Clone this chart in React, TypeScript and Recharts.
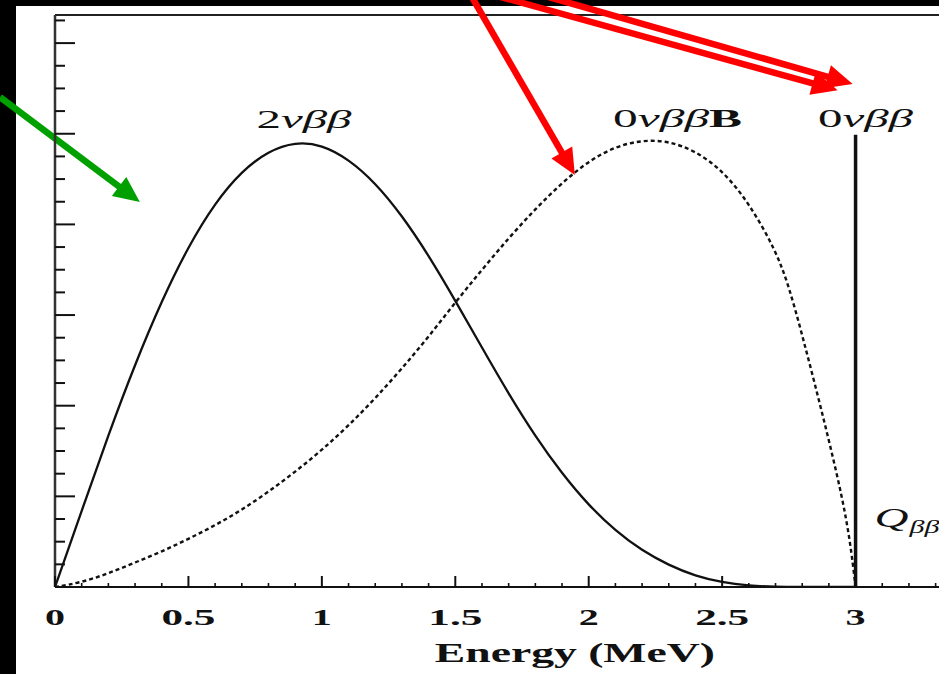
import React from 'react'
import { LineChart, Line, XAxis, YAxis, ReferenceDot, ReferenceLine } from 'recharts'

// energy grid (MeV) and spectrum heights (arbitrary units)
const twoNuEnergy = [0, 0.1, 0.2, 0.3, 0.4, 0.5, 0.6, 0.7, 0.8, 0.9, 1.0, 1.1, 1.2, 1.3, 1.4, 1.5, 1.6, 1.7, 1.8, 1.9, 2.0, 2.1, 2.2, 2.3, 2.4, 2.5, 2.6, 2.7, 2.8, 2.9, 3.0]
const twoNuCounts = [0, 0.84, 1.68, 2.46, 3.16, 3.76, 4.24, 4.59, 4.81, 4.91, 4.88, 4.72, 4.46, 4.1, 3.66, 3.16, 2.64, 2.13, 1.66, 1.25, 0.9, 0.62, 0.4, 0.24, 0.12, 0.05, 0.015, 0, 0, 0, 0]

const zeroNuBEnergy = [0, 0.1, 0.2, 0.3, 0.4, 0.5, 0.6, 0.7, 0.8, 0.9, 1.0, 1.1, 1.2, 1.3, 1.4, 1.5, 1.6, 1.7, 1.8, 1.9, 2.0, 2.1, 2.2, 2.3, 2.4, 2.5, 2.6, 2.7, 2.75, 2.8, 2.85, 2.9, 2.95, 2.98, 3.0]
const zeroNuBCounts = [0, 0.05, 0.15, 0.27, 0.39, 0.53, 0.68, 0.85, 1.05, 1.27, 1.51, 1.78, 2.08, 2.41, 2.76, 3.14, 3.5, 3.85, 4.17, 4.46, 4.7, 4.86, 4.93, 4.92, 4.81, 4.6, 4.24, 3.72, 3.32, 2.78, 2.21, 1.62, 0.99, 0.5, 0]

const zeroNuEnergy = [3.0, 3.0]
const zeroNuCounts = [0, 4.99]

const xMajorTicks = [0, 0.5, 1, 1.5, 2, 2.5, 3, 3.5]
const xTickLabels = ['0', '0.5', '1', '1.5', '2', '2.5', '3', '']
const xMinorTicks = [0.1, 0.2, 0.3, 0.4, 0.6, 0.7, 0.8, 0.9, 1.1, 1.2, 1.3, 1.4, 1.6, 1.7, 1.8, 1.9, 2.1, 2.2, 2.3, 2.4, 2.6, 2.7, 2.8, 2.9, 3.1, 3.2, 3.3, 3.4]
const yTicks = [0, 0.25, 0.5, 0.75, 1, 1.25, 1.5, 1.75, 2, 2.25, 2.5, 2.75, 3, 3.25, 3.5, 3.75, 4, 4.25, 4.5, 4.75, 5, 5.25, 5.5, 5.75, 6, 6.25]
const yMax = 6.31

// annotation text positions (energy, height)
const curveLabels = [
  { e: 0.933, v: 5.06, lead: '2', greek: 'νββ', tail: '', width: 95 },
  { e: 2.333, v: 5.07, lead: '0', greek: 'νββ', tail: 'B', width: 129 },
  { e: 3.037, v: 5.07, lead: '0', greek: 'νββ', tail: '', width: 95 },
]

// arrows drawn on top of the figure: [fromE, fromV, toE, toV]
const redArrows = [
  [1.554, 6.55, 1.948, 4.544],
  [1.62, 6.55, 2.933, 5.48],
  [1.8, 6.55, 2.989, 5.55],
]
const greenArrow = [-0.206, 5.404, 0.318, 4.246]

const serif = '"Liberation Serif", "DejaVu Serif", serif'

const toPoints = (es: number[], vs: number[]) => es.map((e, i) => ({ e, v: vs[i] }))

function XTick(props: any) {
  const { x, y, payload } = props
  const i = xMajorTicks.findIndex((t) => Math.abs(t - payload.value) < 1e-6)
  const major = i >= 0
  const label = major ? xTickLabels[i] : ''
  return (
    <g>
      <line x1={x} x2={x} y1={y} y2={y - (major ? 11 : 4)} stroke="#111" strokeWidth={major ? 2 : 1.6} />
      {label ? (
        <text
          x={x}
          y={y + 38}
          textAnchor="middle"
          fontFamily={serif}
          fontWeight="bold"
          fontSize={23}
          fill="#111"
          textLength={label.length > 1 ? 54 : 20}
          lengthAdjust="spacingAndGlyphs"
        >
          {label}
        </text>
      ) : null}
    </g>
  )
}

function YTick(props: any) {
  const { x, y, payload } = props
  const major = Math.abs(payload.value - Math.round(payload.value)) < 1e-6
  return <line x1={x} x2={x + (major ? 20 : 10)} y1={y} y2={y} stroke="#111" strokeWidth={2} />
}

function arrowShape(color: string) {
  return (p: any) => {
    const { x1, y1, x2, y2 } = p
    const dx = x2 - x1
    const dy = y2 - y1
    const len = Math.hypot(dx, dy)
    const ux = dx / len
    const uy = dy / len
    const head = 26
    const half = 12
    const bx = x2 - ux * head
    const by = y2 - uy * head
    return (
      <g>
        <line x1={x1} y1={y1} x2={bx + ux * 3} y2={by + uy * 3} stroke={color} strokeWidth={6.5} />
        <polygon points={`${x2},${y2} ${bx - uy * half},${by + ux * half} ${bx + uy * half},${by - ux * half}`} fill={color} />
      </g>
    )
  }
}

export default function App() {
  return (
    <div style={{ position: 'absolute', left: 0, top: 0, width: 939, height: 674, overflow: 'hidden', background: '#000' }}>
      <div style={{ position: 'absolute', left: 16, top: 6, right: 0, bottom: 0, background: '#fff' }} />
      <div style={{ position: 'absolute', left: 0, top: 0 }}>
        <LineChart width={1000} height={674} margin={{ top: 15, right: 11, bottom: 86, left: 54 }}>
          <XAxis
            dataKey="e"
            type="number"
            domain={[0, 3.5]}
            ticks={[...xMajorTicks, ...xMinorTicks]}
            interval={0}
            height={1}
            tickSize={0}
            tickMargin={0}
            tickLine={false}
            tick={<XTick />}
            axisLine={{ stroke: '#111', strokeWidth: 2 }}
            allowDataOverflow
          />
          <YAxis
            type="number"
            domain={[0, yMax]}
            ticks={yTicks}
            interval={0}
            width={1}
            tickSize={0}
            tickMargin={0}
            tickLine={false}
            tick={<YTick />}
            axisLine={{ stroke: '#333', strokeWidth: 2.5 }}
            allowDataOverflow
          />
          <ReferenceLine y={yMax} stroke="#222" strokeWidth={2} ifOverflow="visible" />

          <Line data={toPoints(twoNuEnergy, twoNuCounts)} dataKey="v" type="basis" stroke="#111" strokeWidth={2.3} dot={false} isAnimationActive={false} />
          <Line data={toPoints(zeroNuBEnergy, zeroNuBCounts)} dataKey="v" type="basis" stroke="#111" strokeWidth={2.4} strokeDasharray="4 3" dot={false} isAnimationActive={false} />
          <Line data={toPoints(zeroNuEnergy, zeroNuCounts)} dataKey="v" type="linear" stroke="#111" strokeWidth={3.5} dot={false} isAnimationActive={false} />

          {curveLabels.map((l) => (
            <ReferenceDot
              key={l.lead + l.tail + l.e}
              x={l.e}
              y={l.v}
              r={0}
              ifOverflow="visible"
              shape={(p: any) => (
                <text x={p.cx} y={p.cy} textAnchor="middle" fontFamily={serif} fontSize={25} fill="#111" textLength={l.width} lengthAdjust="spacingAndGlyphs">
                  <tspan>{l.lead}</tspan>
                  <tspan fontStyle="italic">{l.greek}</tspan>
                  {l.tail ? <tspan fontWeight="bold">{l.tail}</tspan> : null}
                </text>
              )}
            />
          ))}

          <ReferenceDot
            x={3.071}
            y={0.66}
            r={0}
            ifOverflow="visible"
            shape={(p: any) => (
              <g>
                <text x={p.cx} y={p.cy} fontFamily={serif} fontStyle="italic" fontSize={28} fill="#111" textLength={34} lengthAdjust="spacingAndGlyphs">
                  Q
                </text>
                <text x={p.cx + 35} y={p.cy + 6} fontFamily={serif} fontStyle="italic" fontSize={18} fill="#111" textLength={30} lengthAdjust="spacingAndGlyphs">
                  ββ
                </text>
              </g>
            )}
          />

          <ReferenceDot
            x={1.948}
            y={-0.827}
            r={0}
            ifOverflow="visible"
            shape={(p: any) => (
              <text x={p.cx} y={p.cy} textAnchor="middle" fontFamily={serif} fontWeight="bold" fontSize={28} fill="#111" textLength={280} lengthAdjust="spacingAndGlyphs">
                Energy (MeV)
              </text>
            )}
          />

          {redArrows.map((a, i) => (
            <ReferenceLine
              key={i}
              segment={[{ x: a[0], y: a[1] }, { x: a[2], y: a[3] }]}
              ifOverflow="visible"
              shape={arrowShape('#ff0000')}
            />
          ))}
          <ReferenceLine
            segment={[{ x: greenArrow[0], y: greenArrow[1] }, { x: greenArrow[2], y: greenArrow[3] }]}
            ifOverflow="visible"
            shape={arrowShape('#00a000')}
          />
        </LineChart>
      </div>
    </div>
  )
}
